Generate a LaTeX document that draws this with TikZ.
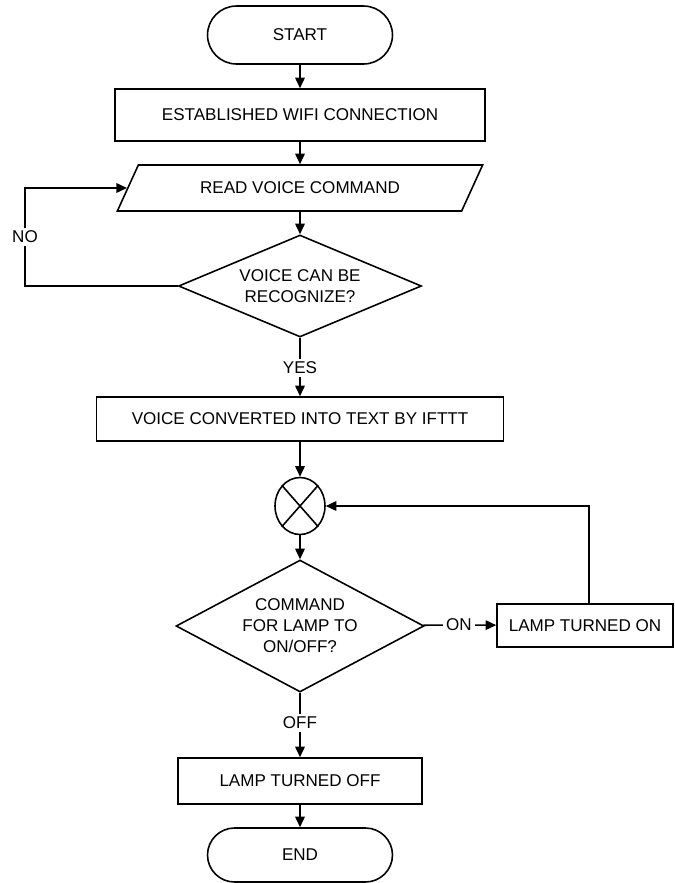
\documentclass[tikz,border=0pt]{standalone}
\usepackage{fontspec}
\setmainfont{Liberation Sans}
\usepackage{tikz}
\usetikzlibrary{positioning,calc,shapes.geometric,arrows.meta}
\tikzset{>={Triangle[length=0.21cm,width=0.19cm]}}
\tikzset{
terminal/.style={draw,rectangle,minimum width=3.7cm,align=center},
process/.style={draw,rectangle,align=center},
inout/.style={draw,trapezium,trapezium left angle=60,trapezium right angle=120,trapezium stretches=true,align=center},
decide/.style={draw,diamond,inner sep=0pt,align=center},
junction/.style={draw,ellipse,inner sep=0pt,minimum width=1cm,minimum height=1.14cm},
tag/.style={inner sep=1.5pt}
}
\begin{document}
\begin{tikzpicture}[x=0.02cm,y=-0.02cm,line width=0.9pt,font=\fontsize{9.7}{12}\selectfont]
\useasboundingbox (0,0) rectangle (675,883);
\node[terminal,minimum height=1.16cm,rounded corners=0.58cm] (start) at (300,35) {START};
\node[process,minimum width=7.4cm,minimum height=1.04cm] (est) at (300,115) {ESTABLISHED WIFI CONNECTION};
\node[inout,minimum width=7.32cm,minimum height=0.92cm] (read) at (300,188) {READ VOICE COMMAND};
\node[decide,aspect=2.4,minimum width=4.86cm,minimum height=2.04cm] (dec1) at (300,286) {VOICE CAN BE\\RECOGNIZE?};
\node[tag] (yes) at (300,368) {YES};
\node[process,minimum width=8.14cm,minimum height=0.88cm] (conv) at (300,419) {VOICE CONVERTED INTO TEXT BY IFTTT};
\node[junction] (mix) at (300,506) {};
\node[decide,aspect=1.9,minimum width=4.96cm,minimum height=2.64cm] (dec2) at (300,626) {COMMAND\\FOR LAMP TO\\ON/OFF?};
\node[tag] (onl) at (459,625) {ON};
\node[process,minimum width=3.52cm,minimum height=0.86cm] (on) at (585,625.5) {LAMP TURNED ON};
\node[tag] (offl) at (300,723) {OFF};
\node[process,minimum width=4.88cm,minimum height=0.92cm] (off) at (300,781) {LAMP TURNED OFF};
\node[terminal,minimum height=1.08cm,rounded corners=0.54cm] (end) at (300,855) {END};
\node[tag] (no) at (25,237) {NO};
\coordinate (fb) at (589,506);
\draw (mix.north west) -- (mix.south east);
\draw (mix.north east) -- (mix.south west);
\draw[->] (start) -- (est);
\draw[->] (est) -- (read);
\draw[->] (read) -- (dec1);
\draw (dec1) -- (yes);
\draw[->] (yes) -- (conv);
\draw[->] (conv) -- (mix);
\draw[->] (mix) -- (dec2);
\draw (dec2) -- (onl);
\draw[->] (onl) -- (on);
\draw (dec2) -- (offl);
\draw[->] (offl) -- (off);
\draw[->] (off) -- (end);
\draw (dec1.west) -| (no);
\draw[->] (no) |- (read.west);
\draw[->] (on.north -| fb) |- (mix.east);
\end{tikzpicture}
\end{document}
